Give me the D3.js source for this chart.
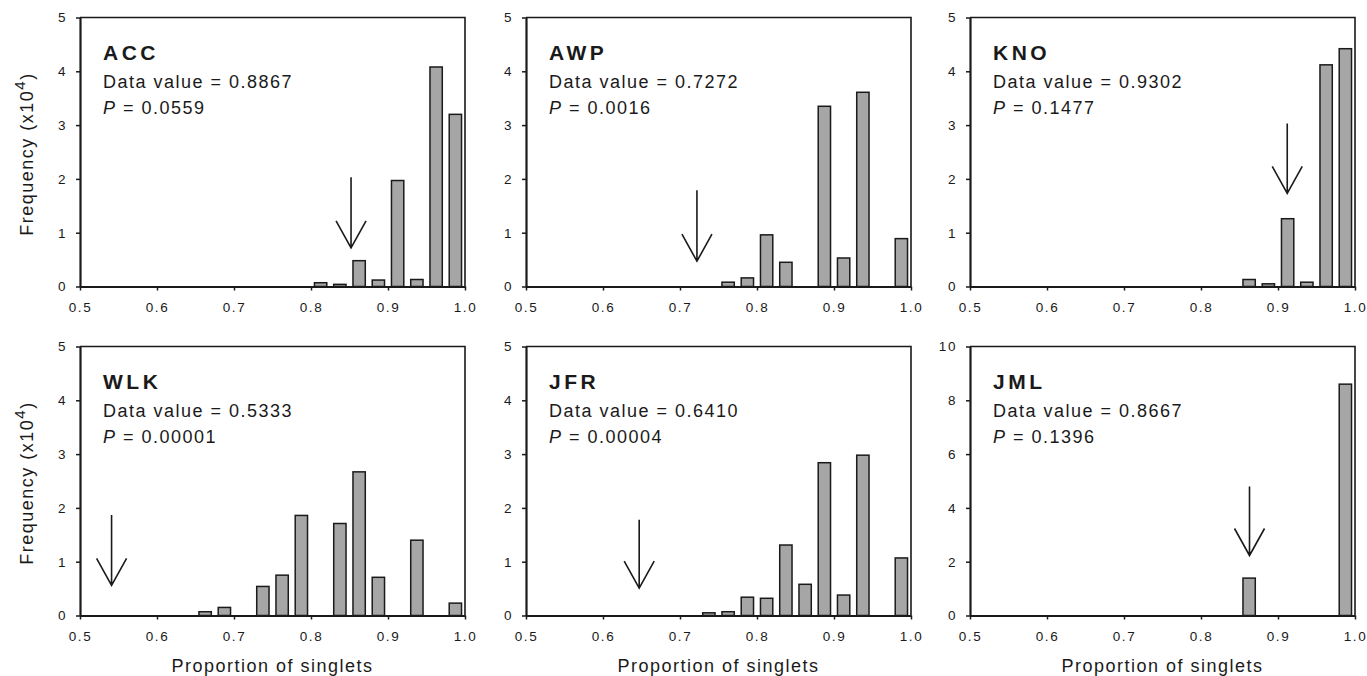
<!DOCTYPE html>
<html><head><meta charset="utf-8">
<script src="https://cdn.jsdelivr.net/npm/d3@7"></script>
<style>
body{margin:0;background:#fff;}
svg{display:block;}
text{font-family:"Liberation Sans",Arial,sans-serif;fill:#1a1a1a;}
g.axis text{font-size:13.5px !important;letter-spacing:1.6px;fill:#1a1a1a;}
</style>
</head><body>
<svg id="c" width="1367" height="676"></svg>
<script>
// ---------- data ----------
const sites = ["ACC", "AWP", "KNO", "WLK", "JFR", "JML"];
const dataValues = ["0.8867", "0.7272", "0.9302", "0.5333", "0.6410", "0.8667"];
const pValues = ["0.0559", "0.0016", "0.1477", "0.00001", "0.00004", "0.1396"];
const binCenters = [0.5125, 0.5375, 0.5625, 0.5875, 0.6125, 0.6375, 0.6625, 0.6875, 0.7125, 0.7375,
                    0.7625, 0.7875, 0.8125, 0.8375, 0.8625, 0.8875, 0.9125, 0.9375, 0.9625, 0.9875];
const freqACC = [0,0,0,0,0,0,0,0,0,0, 0,0,0.07,0.04,0.48,0.12,1.97,0.13,4.08,3.20];
const freqAWP = [0,0,0,0,0,0,0,0,0,0, 0.08,0.16,0.96,0.45,0,3.35,0.53,3.61,0,0.89];
const freqKNO = [0,0,0,0,0,0,0,0,0,0, 0,0,0,0,0.13,0.05,1.26,0.08,4.12,4.42];
const freqWLK = [0,0,0,0,0,0,0.07,0.15,0,0.54, 0.75,1.86,0,1.71,2.67,0.71,0,1.40,0,0.23];
const freqJFR = [0,0,0,0,0,0,0,0,0,0.05, 0.07,0.34,0.32,1.31,0.58,2.84,0.38,2.98,0,1.07];
const freqJML = [0,0,0,0,0,0,0,0,0,0, 0,0,0,0,1.39,0,0,0,0,8.60];
const frequencies = [freqACC, freqAWP, freqKNO, freqWLK, freqJFR, freqJML];
const yMaxes = [5, 5, 5, 5, 5, 10];
const yTicks5 = [0, 1, 2, 3, 4, 5];
const yTicks10 = [0, 2, 4, 6, 8, 10];
const xTicks = [0.5, 0.6, 0.7, 0.8, 0.9, 1.0];
const xTickLabels = ["0.5", "0.6", "0.7", "0.8", "0.9", "1.0"];
// arrow (observed value marker): x position, shaft top and tip in data units
const arrowX = [0.852, 0.722, 0.912, 0.541, 0.647, 0.863];
const arrowTop = [2.03, 1.79, 3.03, 1.87, 1.78, 4.80];
const arrowTip = [0.72, 0.47, 1.73, 0.56, 0.51, 2.23];
const xTitle = "Proportion of singlets";

// ---------- layout ----------
const svg = d3.select("#c");
const colLeft = [80, 526, 970];
const rowTop = [17.5, 346.5];
const panelW = 385, panelH = 269;
const barHalf = 0.008;
const ink = "#1a1a1a";

sites.forEach((site, i) => {
  const col = i % 3, row = Math.floor(i / 3);
  const g = svg.append("g").attr("transform", `translate(${colLeft[col]},${rowTop[row]})`);
  const x = d3.scaleLinear().domain([0.5, 1.0]).range([0, panelW]);
  const y = d3.scaleLinear().domain([0, yMaxes[i]]).range([panelH, 0]);

  // top / right frame
  g.append("path").attr("d", `M0,0H${panelW}V${panelH}`)
    .attr("fill", "none").attr("stroke", ink).attr("stroke-width", 1.6);

  // bars
  const bars = binCenters.map((c, k) => ({c, v: frequencies[i][k]})).filter(d => d.v > 0);
  g.selectAll("rect.bar").data(bars).enter().append("rect")
    .attr("class", "bar")
    .attr("x", d => x(d.c - barHalf))
    .attr("width", d => x(d.c + barHalf) - x(d.c - barHalf))
    .attr("y", d => y(d.v))
    .attr("height", d => y(0) - y(d.v))
    .attr("fill", "#a6a6a6").attr("stroke", ink).attr("stroke-width", 1.5);

  // axes
  const ya = d3.axisLeft(y).tickValues(yMaxes[i] > 5 ? yTicks10 : yTicks5)
    .tickSize(4).tickSizeOuter(0).tickPadding(9).tickFormat(d3.format("d"));
  const yg = g.append("g").attr("class", "axis").call(ya);
  const xa = d3.axisBottom(x).tickValues(xTicks).tickSize(4).tickSizeOuter(0).tickPadding(12)
    .tickFormat((d, k) => xTickLabels[k]);
  const xg = g.append("g").attr("class", "axis").attr("transform", `translate(0,${panelH})`).call(xa);
  [yg, xg].forEach(a => {
    a.attr("font-size", 13.5).attr("font-family", '"Liberation Sans",Arial,sans-serif');
    a.select(".domain").attr("stroke", ink).attr("stroke-width", 2.2);
    a.selectAll(".tick line").attr("stroke", ink).attr("stroke-width", 1.5);
  });

  // arrow
  const ax = x(arrowX[i]), at = y(arrowTop[i]), ap = y(arrowTip[i]);
  g.append("path")
    .attr("d", `M${ax},${at}V${ap}M${ax - 15},${ap - 27}L${ax},${ap}L${ax + 15},${ap - 27}`)
    .attr("fill", "none").attr("stroke", ink).attr("stroke-width", 1.6);

  // annotations
  g.append("text").attr("x", 23).attr("y", 42).text(site)
    .style("font-size", "21px").style("font-weight", "bold").style("letter-spacing", "3.5px");
  g.append("text").attr("x", 23).attr("y", 70).text("Data value = " + dataValues[i])
    .style("font-size", "18px").style("letter-spacing", "1.5px");
  const pt = g.append("text").attr("x", 23).attr("y", 96)
    .style("font-size", "18px").style("letter-spacing", "1.5px");
  pt.append("tspan").style("font-style", "italic").text("P");
  pt.append("tspan").text(" = " + pValues[i]);

  if (row === 1) {
    g.append("text").attr("x", panelW / 2).attr("y", 672 - rowTop[row])
      .attr("text-anchor", "middle").text(xTitle)
      .style("font-size", "18px").style("letter-spacing", "1.5px");
  }
});

// y titles
rowTop.forEach(t => {
  const yt = svg.append("text")
    .attr("transform", `translate(33,${t + panelH / 2 + 2}) rotate(-90)`)
    .attr("text-anchor", "middle")
    .style("font-size", "18px").style("letter-spacing", "1.5px");
  yt.append("tspan").text("Frequency (x10");
  yt.append("tspan").attr("dy", -8).style("font-size", "15px").text("4");
  yt.append("tspan").attr("dy", 8).text(")");
});
</script>
</body></html>
